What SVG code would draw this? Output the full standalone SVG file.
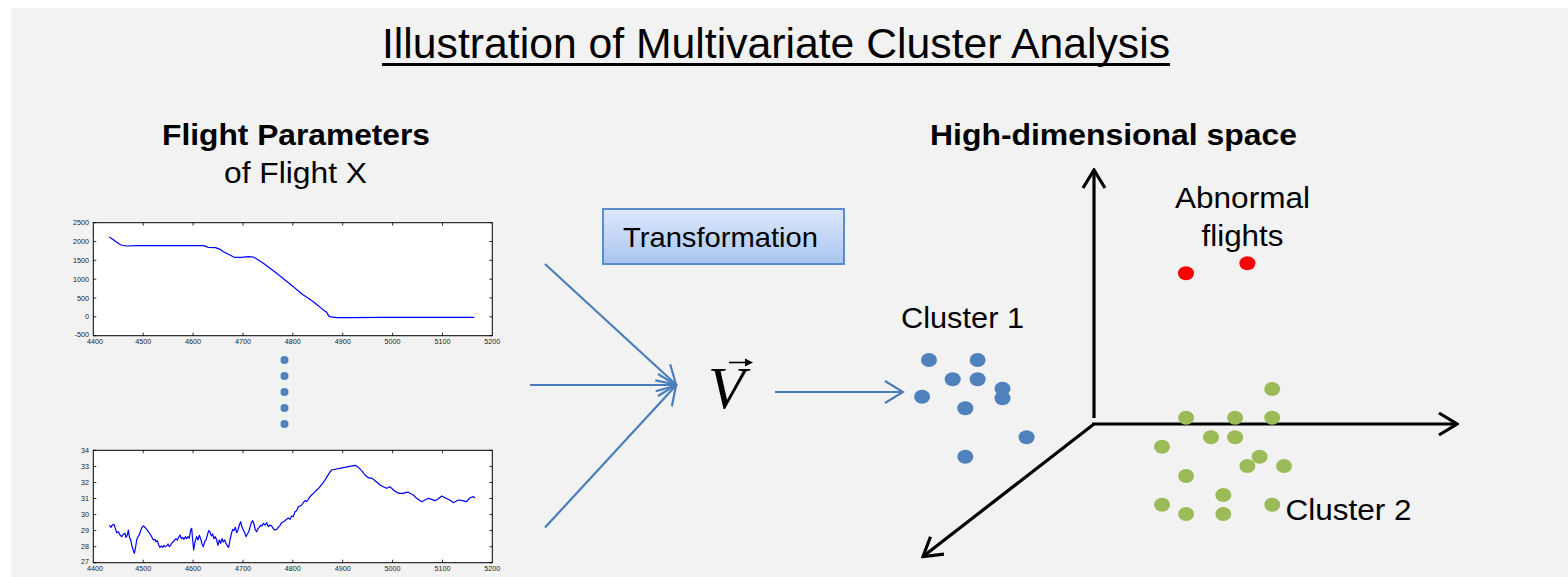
<svg xmlns="http://www.w3.org/2000/svg" width="1568" height="577" viewBox="0 0 1568 577">
<defs>
<style>
.t{font-family:"Liberation Sans",Arial,sans-serif;fill:#000}
.b{font-weight:bold}
.tick{font-family:"Liberation Sans",Arial,sans-serif;font-size:7.2px;fill:#222}
.plotbox{fill:#fff;stroke:#000;stroke-width:1}
.tk{stroke:#000;stroke-width:0.8}
.curve{fill:none;stroke:#0000ff;stroke-width:1.2;stroke-linejoin:round}
.conn{stroke:#4a7ebb;stroke-width:2.2;fill:none}
.axis{stroke:#000;stroke-width:3.2;fill:none}
.c1{fill:#4f81bd}
.c2{fill:#9bbb59}
.ab{fill:#ff0000}
</style>
<linearGradient id="gbox" x1="0" y1="0" x2="0" y2="1">
<stop offset="0" stop-color="#dde9fc"/>
<stop offset="1" stop-color="#a8c5f0"/>
</linearGradient>
<marker id="ah" viewBox="0 0 22 26" refX="20" refY="13" markerWidth="22" markerHeight="26" markerUnits="userSpaceOnUse" orient="auto">
<path d="M2,2 L20,13 L2,24" fill="none" stroke="#4a7ebb" stroke-width="2.2"/>
</marker>
<marker id="axh" viewBox="0 0 22 26" refX="20" refY="13" markerWidth="22" markerHeight="26" markerUnits="userSpaceOnUse" orient="auto">
<path d="M2,2 L20,13 L2,24" fill="none" stroke="#000" stroke-width="3.2"/>
</marker>
</defs>
<rect x="0" y="0" width="1568" height="577" fill="#fff"/>
<rect x="11" y="8" width="1557" height="569" fill="#f2f2f2"/>

<g id="title">
<text class="t" x="776" y="58" font-size="42.5" text-anchor="middle" textLength="788" lengthAdjust="spacingAndGlyphs">Illustration of Multivariate Cluster Analysis</text>
<rect x="382" y="63" width="788" height="3" fill="#000"/>
</g>

<g id="flight-params-label">
<text class="t b" x="296" y="145" font-size="29" text-anchor="middle" textLength="268" lengthAdjust="spacingAndGlyphs">Flight Parameters</text>
<text class="t" x="295.5" y="183" font-size="29" text-anchor="middle" textLength="143" lengthAdjust="spacingAndGlyphs">of Flight X</text>
</g>

<g id="plot-top">
<rect class="plotbox" x="93.3" y="222.7" width="399" height="113"/>
<g class="tk">
<path d="M93.3,222.7h3M93.3,241.5h3M93.3,260.3h3M93.3,279.2h3M93.3,298h3M93.3,316.8h3M93.3,335.7h3"/>
<path d="M492.3,222.7h-3M492.3,241.5h-3M492.3,260.3h-3M492.3,279.2h-3M492.3,298h-3M492.3,316.8h-3M492.3,335.7h-3"/>
<path d="M143.2,335.7v-3M193.1,335.7v-3M243,335.7v-3M292.8,335.7v-3M342.7,335.7v-3M392.6,335.7v-3M442.5,335.7v-3"/>
<path d="M143.2,222.7v3M193.1,222.7v3M243,222.7v3M292.8,222.7v3M342.7,222.7v3M392.6,222.7v3M442.5,222.7v3"/>
</g>
<g class="tick" text-anchor="end">
<text x="89" y="225.2">2500</text>
<text x="89" y="244">2000</text>
<text x="89" y="262.8">1500</text>
<text x="89" y="281.7">1000</text>
<text x="89" y="300.5">500</text>
<text x="89" y="319.3">0</text>
<text x="89" y="337">-500</text>
</g>
<g class="tick" text-anchor="middle">
<text x="95" y="344">4400</text>
<text x="143.2" y="344">4500</text>
<text x="193.1" y="344">4600</text>
<text x="243" y="344">4700</text>
<text x="292.8" y="344">4800</text>
<text x="342.7" y="344">4900</text>
<text x="392.6" y="344">5000</text>
<text x="442.5" y="344">5100</text>
<text x="492.3" y="344">5200</text>
</g>
<g transform="translate(50,205) scale(0.33333)">
<polyline class="curve" vector-effect="non-scaling-stroke" points="178,96 190,104 200,112 213,120 230,123 260,122 300,122 400,122 460,122 470,125 475,127 497,128 510,133 520,140 535,148 553,157 575,157 595,155 610,156 625,165 640,175 660,190 680,205 705,225 730,245 745,258 760,270 775,280 790,290 805,302 820,315 830,322 838,335 860,338 900,338 1000,337 1273,337"/>
</g>
</g>

<g id="ellipsis-dots" class="c1">
<circle cx="284.5" cy="360" r="4"/>
<circle cx="284.5" cy="376" r="4"/>
<circle cx="284.5" cy="392" r="4"/>
<circle cx="284.5" cy="408" r="4"/>
<circle cx="284.5" cy="424" r="4"/>
</g>

<g id="plot-bottom">
<rect class="plotbox" x="93.3" y="450.3" width="399" height="112.4"/>
<g class="tk">
<path d="M93.3,450.3h3M93.3,466.4h3M93.3,482.5h3M93.3,498.5h3M93.3,514.6h3M93.3,530.6h3M93.3,546.7h3M93.3,562.7h3"/>
<path d="M492.3,450.3h-3M492.3,466.4h-3M492.3,482.5h-3M492.3,498.5h-3M492.3,514.6h-3M492.3,530.6h-3M492.3,546.7h-3M492.3,562.7h-3"/>
<path d="M143.2,562.7v-3M193.1,562.7v-3M243,562.7v-3M292.8,562.7v-3M342.7,562.7v-3M392.6,562.7v-3M442.5,562.7v-3"/>
<path d="M143.2,450.3v3M193.1,450.3v3M243,450.3v3M292.8,450.3v3M342.7,450.3v3M392.6,450.3v3M442.5,450.3v3"/>
</g>
<g class="tick" text-anchor="end">
<text x="89" y="452.8">34</text>
<text x="89" y="468.9">33</text>
<text x="89" y="485">32</text>
<text x="89" y="501">31</text>
<text x="89" y="517.1">30</text>
<text x="89" y="533.1">29</text>
<text x="89" y="549.2">28</text>
<text x="89" y="564">27</text>
</g>
<g class="tick" text-anchor="middle">
<text x="95" y="571">4400</text>
<text x="143.2" y="571">4500</text>
<text x="193.1" y="571">4600</text>
<text x="243" y="571">4700</text>
<text x="292.8" y="571">4800</text>
<text x="342.7" y="571">4900</text>
<text x="392.6" y="571">5000</text>
<text x="442.5" y="571">5100</text>
<text x="492.3" y="571">5200</text>
</g>
<g transform="translate(50,440) scale(0.33333)">
<polyline class="curve" vector-effect="non-scaling-stroke" points="178,255 183,262 187,255 192,253 196,265 200,278 205,275 210,285 215,290 220,283 225,280 228,292 232,285 235,270 238,290 242,300 246,318 250,332 253,340 257,320 260,300 264,290 268,285 272,272 276,262 280,258 285,262 290,268 295,275 300,282 305,290 310,300 315,298 318,305 322,302 326,315 330,322 334,318 338,322 342,316 346,320 350,318 354,312 358,320 362,316 366,308 370,305 374,300 378,296 382,300 386,292 390,285 394,296 398,292 402,298 406,290 410,296 414,290 418,294 422,270 425,265 428,300 431,330 435,305 440,290 444,300 448,286 452,296 456,312 460,320 464,305 468,300 472,286 476,272 480,276 484,288 488,282 492,296 496,290 500,300 504,316 508,300 512,310 516,296 520,306 524,300 528,310 532,318 536,322 540,300 544,282 548,268 552,272 556,262 560,278 564,270 568,255 572,245 576,262 580,270 584,278 588,290 592,282 596,276 600,262 604,248 608,242 612,252 616,270 620,275 624,266 628,262 632,256 636,258 640,250 645,255 650,248 655,260 660,255 665,258 670,266 675,270 680,268 685,262 690,256 695,248 700,245 705,242 710,238 715,234 720,238 725,228 730,230 735,215 740,212 745,200 750,198 755,195 760,188 765,182 770,184 775,178 780,170 785,165 790,160 795,155 800,150 805,146 810,140 815,134 820,128 825,120 830,112 835,104 840,96 845,90 880,83 915,76 925,82 935,92 945,105 955,113 965,115 970,118 980,126 990,135 1000,140 1010,145 1020,140 1030,150 1040,157 1050,160 1060,160 1068,157 1075,157 1082,161 1090,165 1100,175 1115,185 1125,180 1135,175 1145,178 1155,182 1165,176 1175,168 1185,173 1195,178 1205,184 1210,188 1218,184 1225,180 1238,182 1250,185 1258,175 1268,170 1275,173"/>
</g>
</g>

<g id="transformation">
<rect x="603" y="209" width="241" height="55" fill="url(#gbox)" stroke="#5b8cd2" stroke-width="2"/>
<text class="t" x="720.5" y="247" font-size="28.5" text-anchor="middle" textLength="195" lengthAdjust="spacingAndGlyphs">Transformation</text>
</g>

<g id="vector-v">
<text x="708" y="408" font-family="'Liberation Serif','Times New Roman',serif" font-style="italic" font-size="60" fill="#000">V</text>
<path d="M729,362.5 H748" stroke="#000" stroke-width="1.6"/>
<path d="M745,358.5 L753,362.5 L745,366.5 Z" fill="#000"/>
</g>

<g id="connectors">
<line class="conn" x1="545" y1="264" x2="676" y2="384.5" marker-end="url(#ah)"/>
<line class="conn" x1="530" y1="385" x2="676" y2="385" marker-end="url(#ah)"/>
<line class="conn" x1="545" y1="527.5" x2="676" y2="385.5" marker-end="url(#ah)"/>
<line class="conn" x1="775" y1="392" x2="903" y2="392" marker-end="url(#ah)"/>
</g>

<g id="high-dim-label">
<text class="t b" x="1113.5" y="145" font-size="29" text-anchor="middle" textLength="367" lengthAdjust="spacingAndGlyphs">High-dimensional space</text>
</g>

<g id="axes">
<line class="axis" x1="1094" y1="418" x2="1094" y2="170" marker-end="url(#axh)"/>
<line class="axis" x1="1092" y1="424" x2="1457" y2="424" marker-end="url(#axh)"/>
<line class="axis" x1="1094" y1="424" x2="923" y2="556.5" marker-end="url(#axh)"/>
</g>

<g id="cluster1">
<text class="t" x="901" y="327.5" font-size="30" textLength="123" lengthAdjust="spacingAndGlyphs">Cluster 1</text>
<g class="c1">
<ellipse cx="929" cy="360" rx="8" ry="7"/>
<ellipse cx="977.6" cy="360" rx="8" ry="7"/>
<ellipse cx="952.7" cy="379.3" rx="8" ry="7"/>
<ellipse cx="977.6" cy="379.3" rx="8" ry="7"/>
<ellipse cx="1002.5" cy="388.7" rx="8" ry="7"/>
<ellipse cx="1002.5" cy="398.3" rx="8" ry="7"/>
<ellipse cx="922.1" cy="396.7" rx="8" ry="7"/>
<ellipse cx="965.3" cy="408.3" rx="8" ry="7"/>
<ellipse cx="1026.6" cy="437.3" rx="8" ry="7"/>
<ellipse cx="965.3" cy="456.7" rx="8" ry="7"/>
</g>
</g>

<g id="abnormal">
<text class="t" x="1242.5" y="208" font-size="30" text-anchor="middle" textLength="135" lengthAdjust="spacingAndGlyphs">Abnormal</text>
<text class="t" x="1242.5" y="246" font-size="30" text-anchor="middle" textLength="82" lengthAdjust="spacingAndGlyphs">flights</text>
<g class="ab">
<ellipse cx="1186" cy="273.3" rx="8" ry="7"/>
<ellipse cx="1247.4" cy="263.3" rx="8" ry="7"/>
</g>
</g>

<g id="cluster2">
<text class="t" x="1285.6" y="520" font-size="30" textLength="126" lengthAdjust="spacingAndGlyphs">Cluster 2</text>
<g class="c2">
<ellipse cx="1272.2" cy="389" rx="8" ry="7"/>
<ellipse cx="1186.1" cy="417.7" rx="8" ry="7"/>
<ellipse cx="1235.1" cy="417.7" rx="8" ry="7"/>
<ellipse cx="1272.2" cy="417.7" rx="8" ry="7"/>
<ellipse cx="1211" cy="437.3" rx="8" ry="7"/>
<ellipse cx="1235.1" cy="437.3" rx="8" ry="7"/>
<ellipse cx="1162" cy="446.7" rx="8" ry="7"/>
<ellipse cx="1259.6" cy="456.7" rx="8" ry="7"/>
<ellipse cx="1247.4" cy="466" rx="8" ry="7"/>
<ellipse cx="1284.1" cy="466" rx="8" ry="7"/>
<ellipse cx="1186.1" cy="476" rx="8" ry="7"/>
<ellipse cx="1223.3" cy="495" rx="8" ry="7"/>
<ellipse cx="1162" cy="504.7" rx="8" ry="7"/>
<ellipse cx="1272.2" cy="504.7" rx="8" ry="7"/>
<ellipse cx="1186.1" cy="514" rx="8" ry="7"/>
<ellipse cx="1223.3" cy="514" rx="8" ry="7"/>
</g>
</g>
</svg>
